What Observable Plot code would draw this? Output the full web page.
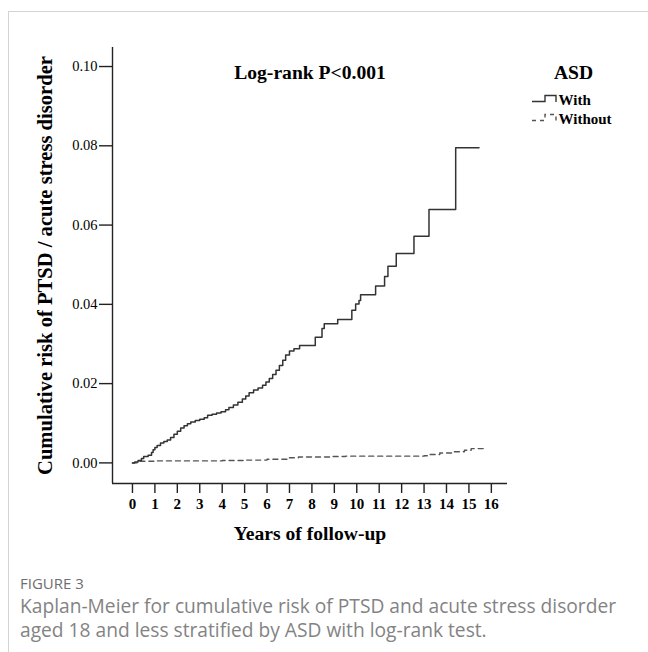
<!DOCTYPE html>
<html><head><meta charset="utf-8">
<script src="https://cdn.jsdelivr.net/npm/d3@7"></script>
<script src="https://cdn.jsdelivr.net/npm/@observablehq/plot@0.6"></script>
<style>
html,body{margin:0;padding:0;background:#fff;}
#wrap{position:relative;width:648px;height:652px;overflow:hidden;background:#fff;}
#border{position:absolute;left:8px;top:11px;width:800px;height:800px;border:1px solid #d4d4d4;box-sizing:border-box;}
#chart{position:absolute;left:0;top:0;}
.cap{position:absolute;left:20px;font-family:"Open Sans","Noto Sans",sans-serif;color:#838383;white-space:nowrap;}
</style></head><body>
<div id="wrap">
<div id="border"></div>
<div id="chart"></div>
<div class="cap" id="fig" style="top:573px;font-size:15px;line-height:20px;color:#6e6e6e;"></div>
<div class="cap" id="capt" style="top:594px;font-size:19.2px;line-height:23.5px;"></div>
</div>
<script>
// ---- data ----
const groups = ["With", "Without"];
const xTicks = [0, 1, 2, 3, 4, 5, 6, 7, 8, 9, 10, 11, 12, 13, 14, 15, 16];
const yTicks = [0.00, 0.02, 0.04, 0.06, 0.08, 0.10];

const withTime = [0, 0.1, 0.25, 0.4, 0.5, 0.7, 0.85, 0.92, 1.0, 1.1, 1.25, 1.4, 1.55, 1.7, 1.85, 2.0, 2.15, 2.3, 2.45, 2.6, 2.8, 3.0, 3.2, 3.35, 3.55, 3.75, 3.95, 4.15, 4.3, 4.5, 4.7, 4.9, 5.05, 5.2, 5.4, 5.6, 5.8, 5.95, 6.1, 6.25, 6.4, 6.55, 6.7, 6.83, 7.0, 7.2, 7.45, 8.15, 8.45, 8.55, 9.15, 9.78, 9.95, 10.1, 10.17, 10.84, 11.24, 11.39, 11.76, 12.55, 13.22, 14.41, 15.45];
const withRisk = [0, 0.0002, 0.0006, 0.0011, 0.0016, 0.0019, 0.0026, 0.0033, 0.0039, 0.0044, 0.0050, 0.0054, 0.0058, 0.0064, 0.0072, 0.0080, 0.0088, 0.0094, 0.0099, 0.0103, 0.0107, 0.0110, 0.0114, 0.0120, 0.0123, 0.0126, 0.0129, 0.0134, 0.0140, 0.0146, 0.0153, 0.0161, 0.0169, 0.0177, 0.0184, 0.0189, 0.0196, 0.0204, 0.0213, 0.0223, 0.0234, 0.0246, 0.0259, 0.0272, 0.0282, 0.0288, 0.0296, 0.0317, 0.0339, 0.0351, 0.0362, 0.0385, 0.0401, 0.0410, 0.0424, 0.0446, 0.0470, 0.0496, 0.0528, 0.0572, 0.0639, 0.0795, 0.0795];

const withoutTime = [0, 0.2, 1.0, 4.0, 5.0, 6.0, 7.0, 7.4, 8.8, 9.5, 13.0, 13.2, 13.7, 14.3, 14.8, 15.1, 15.67];
const withoutRisk = [0, 0.0004, 0.0005, 0.0006, 0.0007, 0.0009, 0.0013, 0.0015, 0.0016, 0.0017, 0.0018, 0.0021, 0.0025, 0.0028, 0.0032, 0.0036, 0.0036];

const annotation = "Log-rank P<0.001";
const legendTitle = "ASD";
const xLabel = "Years of follow-up";
const yLabel = "Cumulative risk of PTSD / acute stress disorder";
const figLabel = "FIGURE 3";
const captionLines = ["Kaplan-Meier for cumulative risk of PTSD and acute stress disorder", "aged 18 and less stratified by ASD with log-rank test."];

// ---- build ----
const withData = withTime.map((t, i) => ({group: groups[0], t, v: withRisk[i]}));
const withoutData = withoutTime.map((t, i) => ({group: groups[1], t, v: withoutRisk[i]}));
const xDom = [-0.89, 16.72];
const yDom = [-0.0052, 0.1048];
const serif = '"Liberation Serif", "Times New Roman", serif';

const svg = Plot.plot({
  width: 648,
  height: 560,
  marginLeft: 112,
  marginRight: 141,
  marginTop: 47,
  marginBottom: 77,
  style: {fontFamily: serif, color: "#000", background: "transparent", overflow: "visible"},
  x: {domain: xDom},
  y: {domain: yDom},
  marks: [
    Plot.ruleX([xDom[0]], {stroke: "#222", strokeWidth: 1.4}),
    Plot.ruleY([yDom[0]], {stroke: "#222", strokeWidth: 1.4}),
    Plot.axisY({ticks: yTicks, tickFormat: d3.format(".2f"), tickSize: 13, tickPadding: 2, fontSize: 14.5, strokeWidth: 1.4, stroke: "#222", label: null}),
    Plot.axisX({ticks: xTicks, tickFormat: d3.format("d"), tickSize: 10, tickPadding: 5, fontSize: 15, fontWeight: "bold", strokeWidth: 1.4, stroke: "#222", label: null}),
    Plot.line(withoutData, {x: "t", y: "v", curve: "step-after", stroke: "#555", strokeWidth: 1.4, strokeDasharray: "5,4"}),
    Plot.line(withData, {x: "t", y: "v", curve: "step-after", stroke: "#333", strokeWidth: 1.5}),
    Plot.text([annotation], {text: d => d, frameAnchor: "top", lineAnchor: "top", dy: 18, fontSize: 19.6, fontWeight: "bold"}),
    Plot.text([legendTitle], {text: d => d, frameAnchor: "top-right", textAnchor: "middle", lineAnchor: "top", dx: 66, dy: 18, fontSize: 19.6, fontWeight: "bold"}),
    Plot.text([groups[0]], {text: d => d, frameAnchor: "top-right", textAnchor: "start", lineAnchor: "top", dx: 51, dy: 46.5, fontSize: 15, fontWeight: "bold"}),
    Plot.text([groups[1]], {text: d => d, frameAnchor: "top-right", textAnchor: "start", lineAnchor: "top", dx: 51, dy: 65.5, fontSize: 15, fontWeight: "bold"}),
    Plot.text([xLabel], {text: d => d, frameAnchor: "bottom", lineAnchor: "top", dy: 42.5, fontSize: 19.6, fontWeight: "bold"}),
    Plot.text([yLabel], {text: d => d, frameAnchor: "left", textAnchor: "middle", rotate: -90, lineAnchor: "middle", dx: -67, fontSize: 20.6, fontWeight: "bold"})
  ]
});

// legend symbols (step shapes)
const g = d3.select(svg).append("g").attr("fill", "none");
g.append("path").attr("d", "M532,101.5H545V95.5H556V102").attr("stroke", "#333").attr("stroke-width", 1.4);
g.append("path").attr("d", "M532,120.5H545V114.5H556V121").attr("stroke", "#555").attr("stroke-width", 1.4).attr("stroke-dasharray", "4,4");

document.getElementById("chart").appendChild(svg);
document.getElementById("fig").textContent = figLabel;
document.getElementById("capt").innerHTML = captionLines.join("<br>");
</script>
</body></html>
